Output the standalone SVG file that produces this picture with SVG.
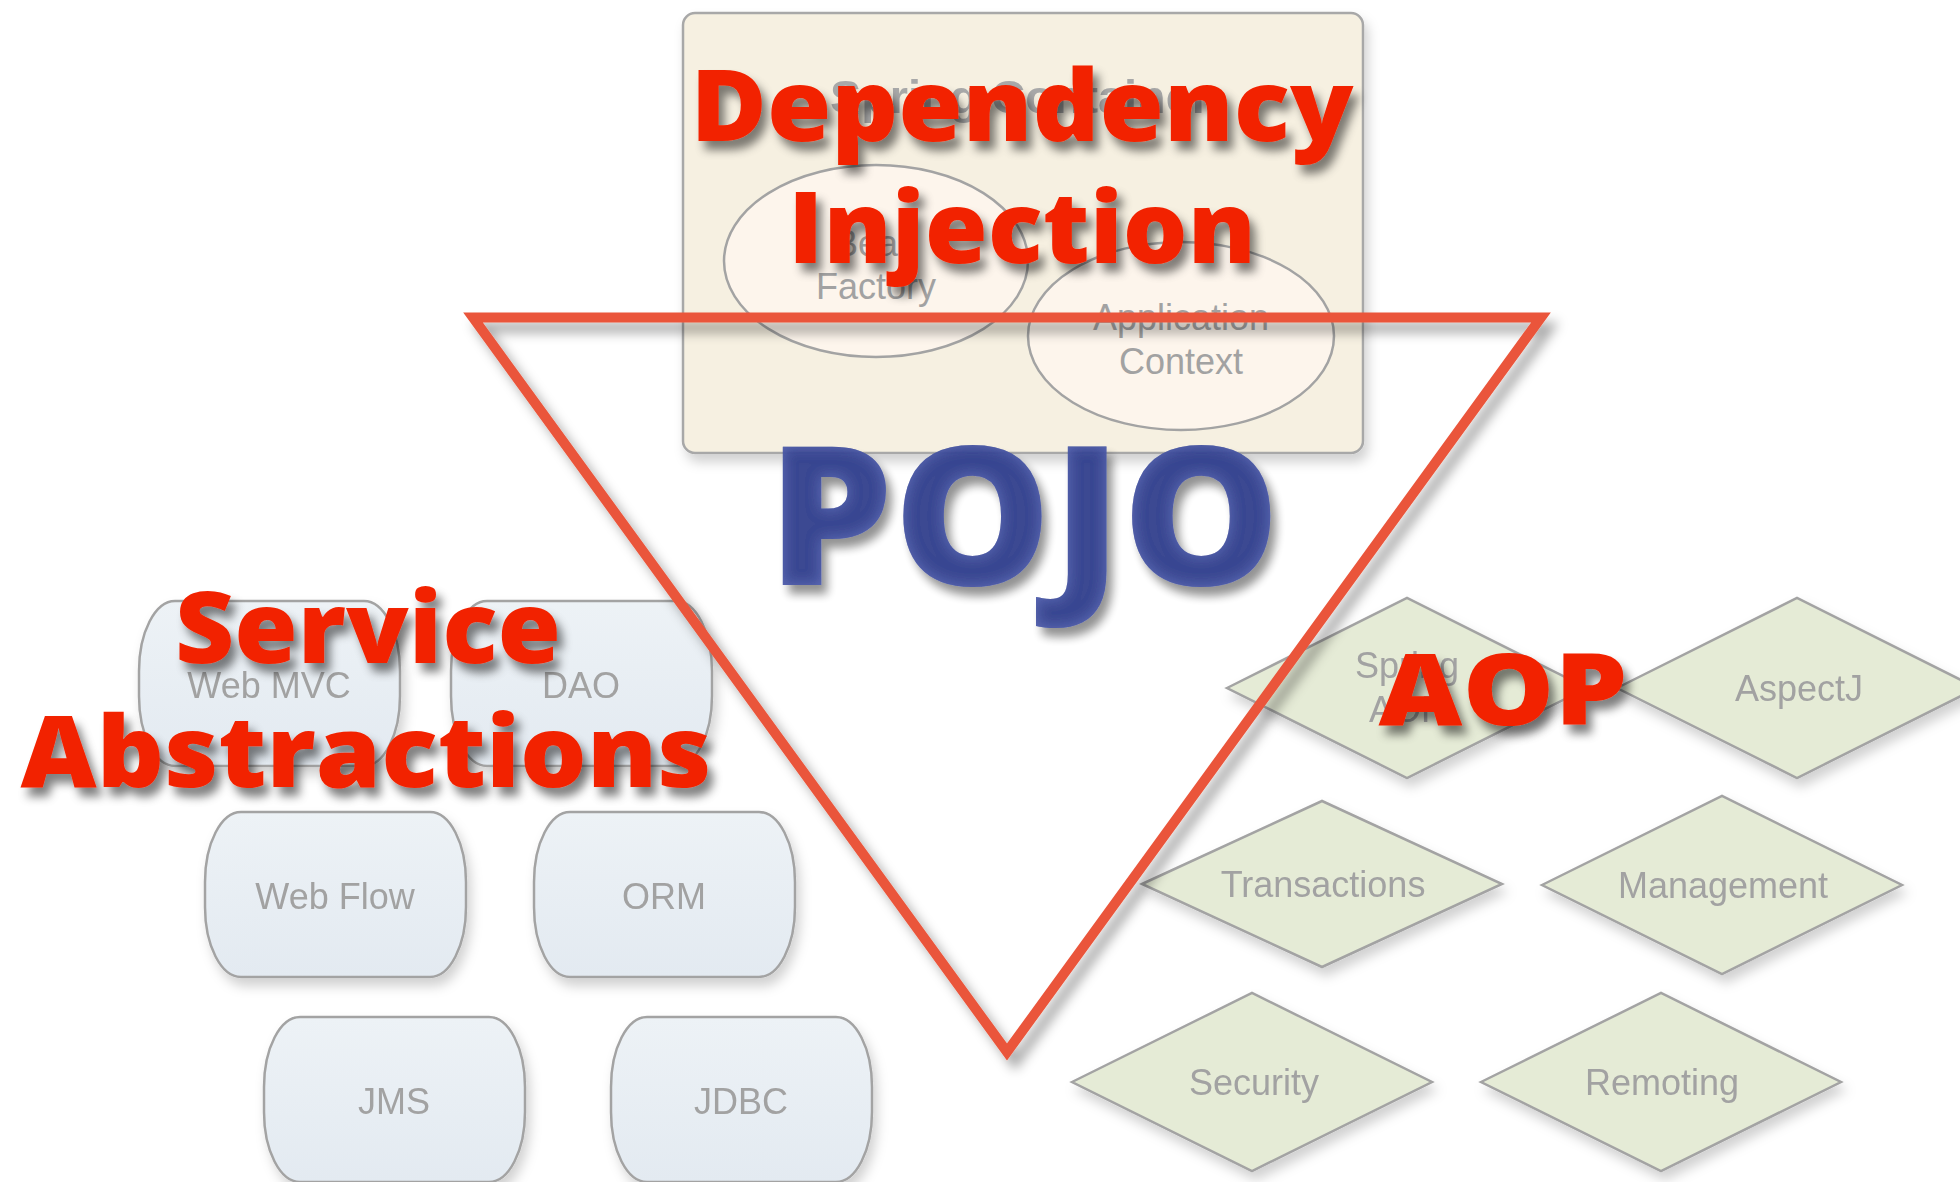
<svg xmlns="http://www.w3.org/2000/svg" width="1960" height="1182" viewBox="0 0 1960 1182">
<defs>
  <filter id="soft" x="-20%" y="-20%" width="150%" height="160%">
    <feGaussianBlur in="SourceAlpha" stdDeviation="6"/>
    <feOffset dx="4" dy="8" result="o"/>
    <feFlood flood-color="#000" flood-opacity="0.18"/>
    <feComposite in2="o" operator="in"/>
    <feMerge><feMergeNode/><feMergeNode in="SourceGraphic"/></feMerge>
  </filter>
  <filter id="redsh" x="-10%" y="-20%" width="130%" height="160%">
    <feGaussianBlur in="SourceAlpha" stdDeviation="5"/>
    <feOffset dx="6" dy="9" result="o"/>
    <feFlood flood-color="#000" flood-opacity="0.5"/>
    <feComposite in2="o" operator="in"/>
    <feMerge><feMergeNode/><feMergeNode in="SourceGraphic"/></feMerge>
  </filter>
  <filter id="trish" x="-10%" y="-10%" width="130%" height="130%">
    <feGaussianBlur in="SourceAlpha" stdDeviation="6"/>
    <feOffset dx="8" dy="10" result="o"/>
    <feFlood flood-color="#000" flood-opacity="0.35"/>
    <feComposite in2="o" operator="in"/>
    <feMerge><feMergeNode/><feMergeNode in="SourceGraphic"/></feMerge>
  </filter>
  <filter id="pojo" x="-10%" y="-20%" width="130%" height="160%">
    <feGaussianBlur in="SourceAlpha" stdDeviation="5"/>
    <feOffset dx="6" dy="9" result="o"/>
    <feFlood flood-color="#000" flood-opacity="0.45"/>
    <feComposite in2="o" operator="in" result="shadow"/>
    <feGaussianBlur in="SourceAlpha" stdDeviation="7" result="ib"/>
    <feComposite in="SourceAlpha" in2="ib" operator="out" result="edge"/>
    <feFlood flood-color="#5b6abb" flood-opacity="0.85"/>
    <feComposite in2="edge" operator="in" result="glow"/>
    <feMerge><feMergeNode in="shadow"/><feMergeNode in="SourceGraphic"/><feMergeNode in="glow"/></feMerge>
  </filter>
  <linearGradient id="boxg" x1="0" y1="0" x2="0" y2="1">
    <stop offset="0" stop-color="#edf2f6"/>
    <stop offset="1" stop-color="#e3eaf1"/>
  </linearGradient>
</defs>
<style>
  .lbl { font-family: "Liberation Sans", Arial, sans-serif; font-size: 36px; fill: #a2a2a2; text-anchor: middle; }
  .box { fill: url(#boxg); stroke: #a3a3a3; stroke-width: 2.5; }
  .dia { fill: #e5ebd6; stroke: #a3a3a3; stroke-width: 2.5; }
  .ell { fill: #fdf5ec; stroke: #a3a3a3; stroke-width: 2.5; }
  .big { font-family: "Open Sans", "Liberation Sans", Arial, sans-serif; font-weight: 800; font-size: 100px; fill: #f22400; text-anchor: middle; }
</style>
<rect width="1960" height="1182" fill="#ffffff"/>

<g id="spring-container" filter="url(#soft)">
  <rect x="683" y="13" width="680" height="440" rx="12" fill="#f6f0e1" stroke="#a8a8a8" stroke-width="2.5"/>
  <text x="1020" y="113" font-family="Liberation Sans, Arial, sans-serif" font-weight="bold" font-size="46" fill="#a8a8a8" text-anchor="middle" textLength="380" lengthAdjust="spacingAndGlyphs">Spring Container</text>
</g>
<g id="bean-factory">
  <ellipse class="ell" cx="876" cy="261" rx="152" ry="96"/>
  <text class="lbl" x="876" y="256">Bean</text>
  <text class="lbl" x="876" y="299">Factory</text>
</g>
<g id="application-context">
  <ellipse class="ell" cx="1181" cy="336" rx="153" ry="94"/>
  <text class="lbl" x="1181" y="330">Application</text>
  <text class="lbl" x="1181" y="374">Context</text>
</g>

<g id="web-mvc" filter="url(#soft)"><rect class="box" x="139" y="601" width="261" height="165" rx="36" ry="70"/><text class="lbl" x="269" y="698">Web MVC</text></g>
<g id="dao" filter="url(#soft)"><rect class="box" x="451" y="601" width="261" height="165" rx="36" ry="70"/><text class="lbl" x="581" y="698">DAO</text></g>
<g id="web-flow" filter="url(#soft)"><rect class="box" x="205" y="812" width="261" height="165" rx="36" ry="70"/><text class="lbl" x="335" y="909">Web Flow</text></g>
<g id="orm" filter="url(#soft)"><rect class="box" x="534" y="812" width="261" height="165" rx="36" ry="70"/><text class="lbl" x="664" y="909">ORM</text></g>
<g id="jms" filter="url(#soft)"><rect class="box" x="264" y="1017" width="261" height="165" rx="36" ry="70"/><text class="lbl" x="394" y="1114">JMS</text></g>
<g id="jdbc" filter="url(#soft)"><rect class="box" x="611" y="1017" width="261" height="165" rx="36" ry="70"/><text class="lbl" x="741" y="1114">JDBC</text></g>

<g id="spring-aop" filter="url(#soft)"><polygon class="dia" points="1227,688 1407,598 1587,688 1407,778"/><text class="lbl" x="1407" y="678">Spring</text><text class="lbl" x="1407" y="722">AOP</text></g>
<g id="aspectj" filter="url(#soft)"><polygon class="dia" points="1617,688 1797,598 1977,688 1797,778"/><text class="lbl" x="1799" y="701">AspectJ</text></g>
<g id="transactions" filter="url(#soft)"><polygon class="dia" points="1142,884 1322,801 1502,884 1322,967"/><text class="lbl" x="1323" y="897">Transactions</text></g>
<g id="management" filter="url(#soft)"><polygon class="dia" points="1542,885 1722,796 1902,885 1722,974"/><text class="lbl" x="1723" y="898">Management</text></g>
<g id="security" filter="url(#soft)"><polygon class="dia" points="1072,1082 1252,993 1432,1082 1252,1171"/><text class="lbl" x="1254" y="1095">Security</text></g>
<g id="remoting" filter="url(#soft)"><polygon class="dia" points="1481,1082 1661,993 1841,1082 1661,1171"/><text class="lbl" x="1662" y="1095">Remoting</text></g>

<g id="connectors"></g>

<g id="triangle" filter="url(#trish)">
  <polygon points="473,317.5 1541,317.5 1007,1052" fill="none" stroke="#ea553a" stroke-width="10" stroke-linejoin="miter" stroke-miterlimit="10"/>
</g>

<g id="pojo-label">
  <text x="1024" y="585" font-family="Open Sans, Liberation Sans, Arial, sans-serif" font-weight="800" font-size="194" fill="#31408d" text-anchor="middle" textLength="513" lengthAdjust="spacingAndGlyphs" filter="url(#pojo)" opacity="0.95">POJO</text>
</g>
<g id="dependency-injection" filter="url(#redsh)">
  <text class="big" x="1022" y="141" textLength="663" lengthAdjust="spacingAndGlyphs">Dependency</text>
  <text class="big" x="1022" y="263" textLength="468" lengthAdjust="spacingAndGlyphs">Injection</text>
</g>
<g id="service-abstractions" filter="url(#redsh)">
  <text class="big" x="368" y="663" textLength="386" lengthAdjust="spacingAndGlyphs">Service</text>
  <text class="big" x="366" y="787" textLength="691" lengthAdjust="spacingAndGlyphs">Abstractions</text>
</g>
<g id="aop-label" filter="url(#redsh)">
  <text class="big" x="1503" y="725" textLength="249" lengthAdjust="spacingAndGlyphs">AOP</text>
</g>
</svg>
